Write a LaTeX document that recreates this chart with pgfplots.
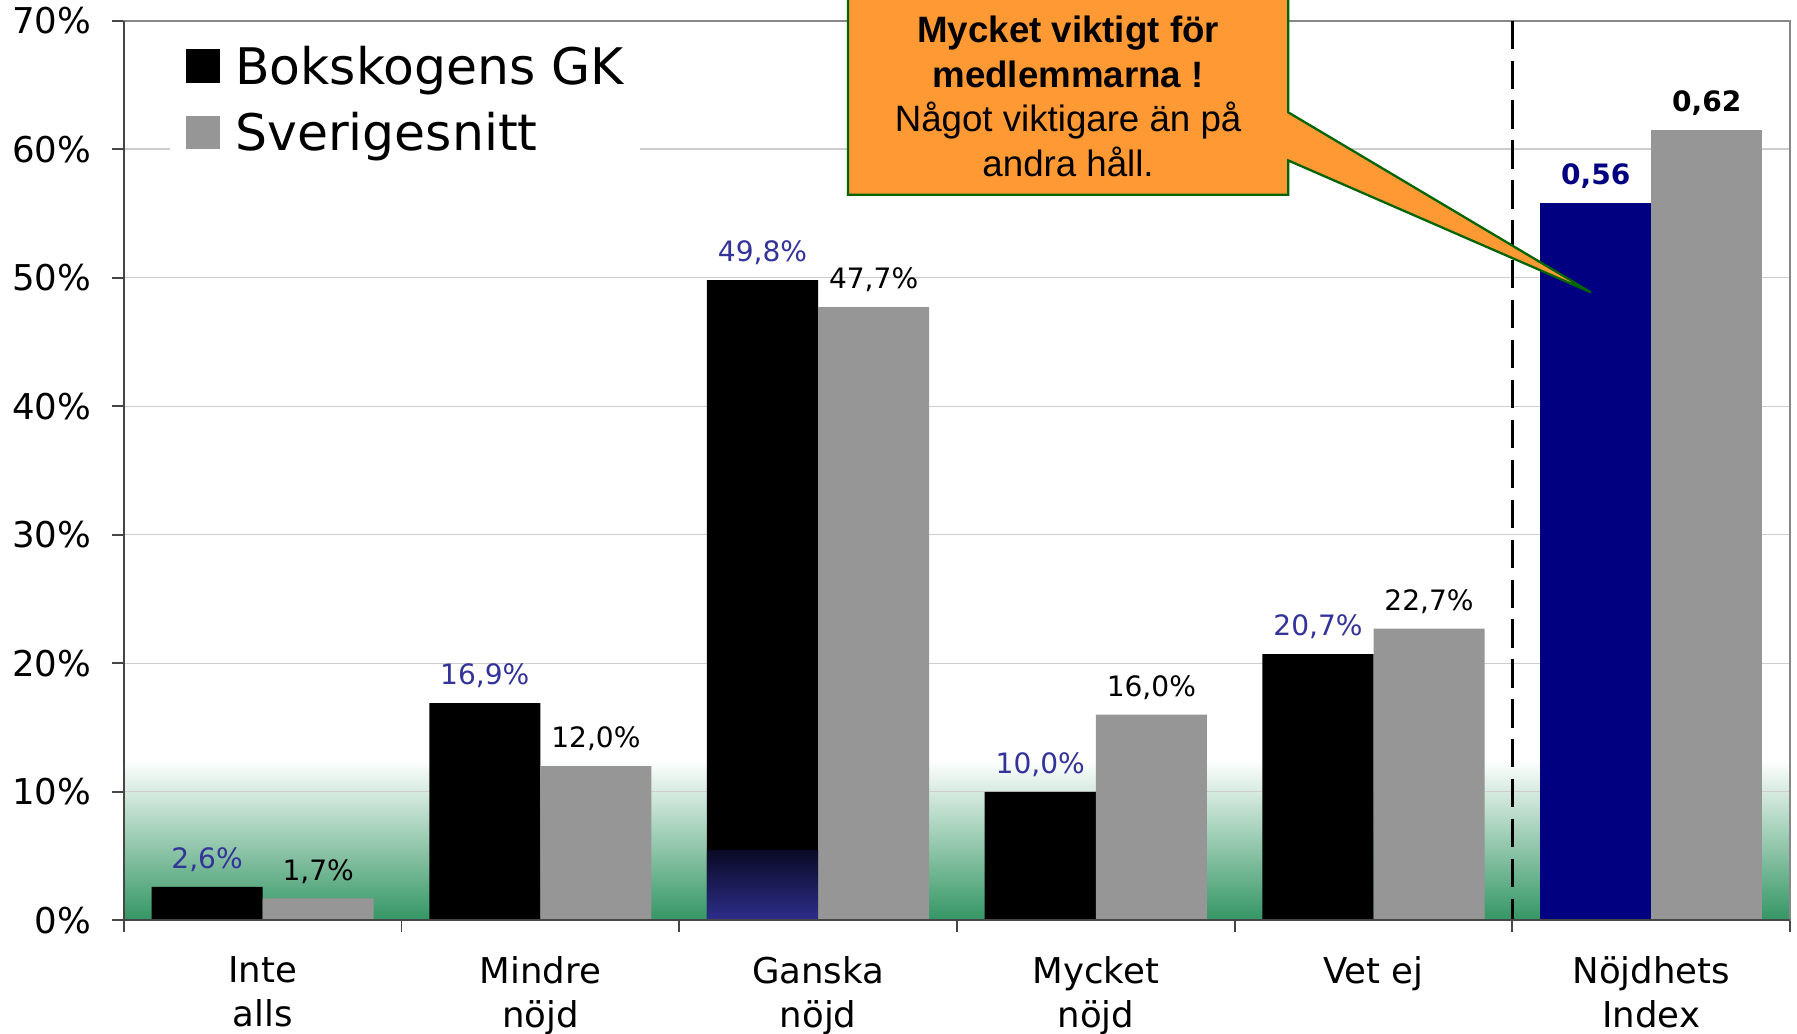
\documentclass[border=0pt]{standalone}
\usepackage{pgfplots}
\pgfplotsset{compat=1.18}
\usepackage{fontspec}
\setmainfont{DejaVu Sans}
\newfontfamily\callfont{Liberation Sans}
\definecolor{bgreen}{RGB}{52,150,100}
\definecolor{bargrey}{RGB}{150,150,150}
\definecolor{navy}{RGB}{0,0,128}
\definecolor{lblue}{RGB}{51,51,153}
\definecolor{callorange}{RGB}{255,153,51}
\definecolor{callgreen}{RGB}{0,100,0}
\definecolor{axgray}{RGB}{135,135,135}
\definecolor{axdark}{RGB}{70,70,70}
\definecolor{gridgray}{RGB}{205,205,205}
\definecolor{gtop}{RGB}{10,10,38}
\definecolor{gbot}{RGB}{46,46,140}
\begin{document}
\begin{tikzpicture}
\begin{axis}[
  set layers,
  scale only axis,
  width=436.2pt, height=235.5pt,
  at={(0pt,0pt)}, anchor=south west,
  xmin=-0.5, xmax=5.5, ymin=0, ymax=70,
  xtick={0,...,5},
  xticklabels={{Inte\\alls},{Mindre\\nöjd},{Ganska\\nöjd},{Mycket\\nöjd},{Vet ej},{Nöjdhets\\Index}},
  minor xtick={-0.5,0.5,...,5.5},
  major x tick style={draw=none},
  ytick={0,10,...,70},
  yticklabels={0\%,10\%,20\%,30\%,40\%,50\%,60\%,70\%},
  tick pos=left,
  tick align=outside,
  major tick length=3.15pt, minor tick length=3.15pt,
  tick style={draw=axdark, line width=0.5pt},
  xticklabel style={align=center, font=\fontsize{9.3}{11.4}\selectfont, inner sep=0pt, anchor=north, yshift=-6.2pt},
  yticklabel style={font=\fontsize{9.3}{11}\selectfont, inner sep=0pt, anchor=east, xshift=-5.2pt},
  ymajorgrids,
  major grid style={draw=gridgray, line width=0.35pt},
  axis line style={draw=axgray, line width=0.5pt},
  legend style={at={(0.0275,0.9847)}, anchor=north west, draw=none, fill=white,
    font=\fontsize{13.2}{15}\selectfont, inner xsep=4.2pt, inner ysep=2.9pt,
    nodes={inner sep=0pt, text height=10pt, text depth=3.2pt},
    row sep=4.2pt, column sep=4pt},
  legend cell align=left,
  clip=false,
]
% background gradient
\addplot[forget plot, on layer=axis background, draw=none, top color=white, bottom color=bgreen]
  coordinates {(-0.5,0) (-0.5,12.5) (5.5,12.5) (5.5,0)} -- cycle;
% legend images
\addlegendimage{legend image code/.code={\fill[black] (0pt,-2.8pt) rectangle (8.4pt,5.6pt);}}
\addlegendentry{Bokskogens GK}
\addlegendimage{legend image code/.code={\fill[bargrey] (0pt,-2.8pt) rectangle (8.4pt,5.6pt);}}
\addlegendentry{Sverigesnitt}
% Bokskogens GK
\addplot[forget plot, ybar, bar width=0.4, bar shift=-0.2, fill=black, draw=none,
  point meta=explicit symbolic, nodes near coords,
  nodes near coords style={text=lblue, font=\fontsize{7.35}{8}\selectfont, anchor=base, inner sep=0pt, yshift=4.8pt, xshift=-14.54pt}]
  coordinates {(0,2.6)[2,6\%] (1,16.9)[16,9\%] (2,49.8)[49,8\%] (3,10.0)[10,0\%] (4,20.7)[20,7\%]};
% Sverigesnitt
\addplot[forget plot, ybar, bar width=0.4, bar shift=0.2, fill=bargrey, draw=none,
  point meta=explicit symbolic, nodes near coords,
  nodes near coords style={text=black, font=\fontsize{7.35}{8}\selectfont, anchor=base, inner sep=0pt, yshift=4.8pt, xshift=14.54pt}]
  coordinates {(0,1.7)[1,7\%] (1,12.0)[12,0\%] (2,47.7)[47,7\%] (3,16.0)[16,0\%] (4,22.7)[22,7\%]};
% blue shading at the foot of the Ganska bar
\addplot[forget plot, ybar, bar width=0.4, bar shift=-0.2, draw=none, top color=gtop, bottom color=gbot]
  coordinates {(2,5.4)};
% Index bars
\addplot[forget plot, ybar, bar width=0.4, bar shift=-0.2, fill=navy, draw=none,
  point meta=explicit symbolic, nodes near coords,
  nodes near coords style={text=navy, font=\fontsize{7.35}{8}\selectfont\bfseries, anchor=base, inner sep=0pt, yshift=4.8pt, xshift=-14.54pt}]
  coordinates {(5,55.8)[0,56]};
\addplot[forget plot, ybar, bar width=0.4, bar shift=0.2, fill=bargrey, draw=none,
  point meta=explicit symbolic, nodes near coords,
  nodes near coords style={text=black, font=\fontsize{7.35}{8}\selectfont\bfseries, anchor=base, inner sep=0pt, yshift=4.8pt, xshift=14.54pt}]
  coordinates {(5,61.5)[0,62]};
% dashed separator
\addplot[forget plot, black, line width=0.87pt, dash pattern=on 7.4pt off 3.05pt]
  coordinates {(4.5,70) (4.5,0)};
\end{axis}
% darker left and bottom axis lines
\draw[axdark, line width=0.55pt] (0pt,235.5pt) -- (0pt,0pt) -- (436.2pt,0pt);
% callout
\draw[callgreen, line width=0.6pt, fill=callorange]
  (189.6pt,250pt) -- (304.8pt,250pt) -- (304.8pt,211.5pt) -- (384pt,164.4pt)
  -- (304.8pt,198.9pt) -- (304.8pt,189.9pt) -- (189.6pt,189.9pt) -- cycle;
\node[anchor=base, inner sep=0pt, font=\callfont\fontsize{9.6}{11}\selectfont\bfseries] at (247.2pt,229.7pt) {Mycket viktigt för};
\node[anchor=base, inner sep=0pt, font=\callfont\fontsize{9.6}{11}\selectfont\bfseries] at (247.2pt,218.0pt) {medlemmarna !};
\node[anchor=base, inner sep=0pt, font=\callfont\fontsize{9.6}{11}\selectfont] at (247.2pt,206.4pt) {Något viktigare än på};
\node[anchor=base, inner sep=0pt, font=\callfont\fontsize{9.6}{11}\selectfont] at (247.2pt,194.6pt) {andra håll.};
\pgfresetboundingbox
\path[use as bounding box] (-32.4pt,-29.7pt) rectangle (438pt,240.9pt);
\end{tikzpicture}
\end{document}
